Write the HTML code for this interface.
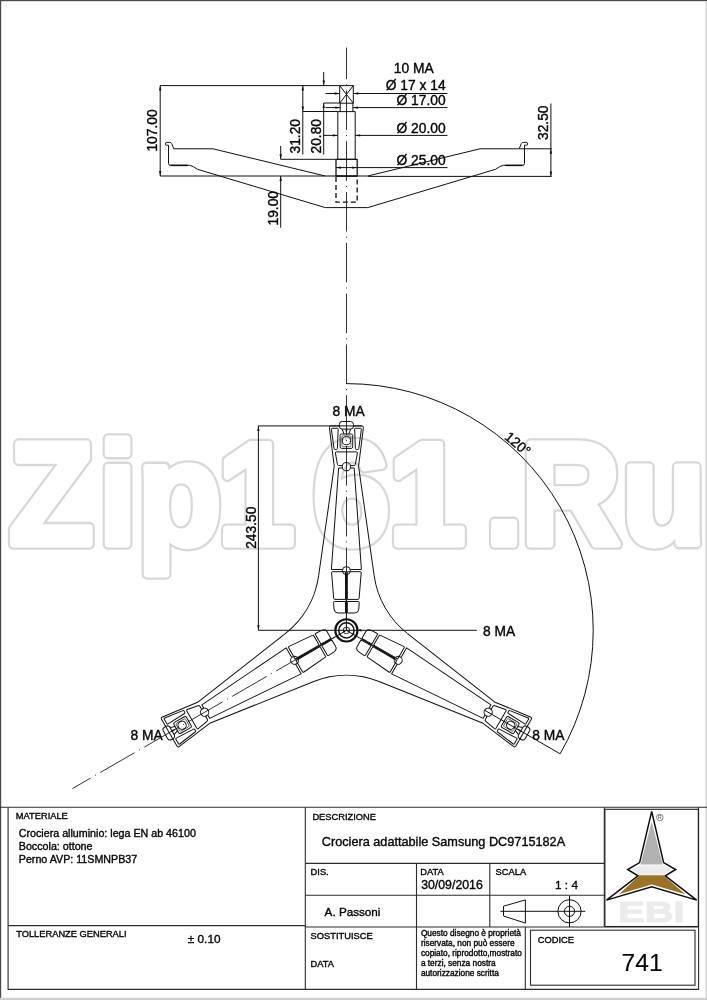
<!DOCTYPE html>
<html lang="it"><head><meta charset="utf-8"><title>Crociera adattabile Samsung DC9715182A</title>
<style>
html,body{margin:0;padding:0;background:#fff}
body{width:707px;height:1000px;overflow:hidden;position:relative;font-family:"Liberation Sans",sans-serif}
svg{position:absolute;left:0;top:0;display:block;will-change:transform}
.l{stroke:#111;stroke-width:1;fill:none}
.k{stroke:#111;stroke-width:1.5;fill:none}
.m{stroke:#111;stroke-width:1.1;fill:none}
.o{stroke:#111;stroke-width:1;fill:none;stroke-linejoin:round}
.c{stroke:#111;stroke-width:.85;fill:none;stroke-dasharray:39.6 5.1 1 5.1}
.d{stroke:#111;stroke-width:1.3;fill:none;stroke-dasharray:5 3}
.ah{fill:#111;stroke:none}
.t{font-family:"Liberation Sans",sans-serif;fill:#050505;stroke:#050505;stroke-width:.36}
.fr{stroke:#2c2c2c;stroke-width:1.1;fill:none}
.wm{font-family:"Liberation Sans",sans-serif;font-weight:bold;stroke-linejoin:round;stroke-linecap:round}
</style></head><body>
<svg width="707" height="1000" viewBox="0 0 707 1000">
<rect x="0" y="0" width="707" height="1000" fill="#fff"/>
<rect x="0" y="0" width="707" height="1.2" fill="#4a4a4a"/>
<rect x="0" y="0" width="1.2" height="998" fill="#4a4a4a"/>
<rect x="705.6" y="1" width="1.4" height="999" fill="#cfcfcf"/>
<rect x="0" y="997.8" width="707" height="2.2" fill="#cfcfcf"/>
<defs><text id="wm" class="wm" x="9.63 103.67 144.68 229.26 329.58 409.26 510.41 548.53 654.41" y="544" font-size="145.0" transform="scale(0.95 1)">Zip161.Ru</text></defs>
<use href="#wm" stroke="#d8d8d8" stroke-width="11.6" fill="#d8d8d8"/>
<use href="#wm" stroke="#fff" stroke-width="6.9" fill="#fff"/>
<polyline class="o" points="367.8,176 480,148.8 519.2,148.8"/>
<path class="o" d="M519.2,148.8 L521.4,143.4 Q522,142.4 523.2,142.4 L526.6,142.4 Q527.8,142.6 527.7,144 Q527.7,145.2 526.6,145.2 L524.5,145.2 L524.5,163.6 Q524.4,165.2 522.8,165.3 L503.5,165.3 Q500,165.8 495.5,169.3 L367.8,207.6"/>
<line class="k" x1="505.4" y1="165.4" x2="522.5" y2="165.4"/>
<polyline class="o" points="325.2,176 213,148.8 173.8,148.8"/>
<path class="o" d="M173.8,148.8 L171.6,143.4 Q171,142.4 169.8,142.4 L166.4,142.4 Q165.2,142.6 165.3,144 Q165.3,145.2 166.4,145.2 L168.5,145.2 L168.5,163.6 Q168.6,165.2 170.2,165.3 L189.5,165.3 Q193,165.8 197.5,169.3 L325.2,207.6"/>
<line class="k" x1="187.6" y1="165.4" x2="170.5" y2="165.4"/>
<line class="o" x1="325.2" y1="207.6" x2="367.8" y2="207.6"/>
<line class="m" x1="325.2" y1="176" x2="336" y2="176"/>
<line class="o" x1="357.2" y1="176" x2="367.8" y2="176"/>
<rect class="o" x="339.7" y="85.6" width="13.6" height="17.6"/>
<line class="l" x1="339.7" y1="85.6" x2="353.3" y2="103.2"/>
<line class="l" x1="353.3" y1="85.6" x2="339.7" y2="103.2"/>
<path class="o" d="M340.2,103.2V111.6M352.9,103.2V111.6"/>
<rect class="o" x="337.8" y="111.6" width="17.4" height="47.7"/>
<rect class="o" x="336" y="159.3" width="21.2" height="16.7" style="stroke-width:1.25"/>
<line class="k" x1="336" y1="176" x2="357.2" y2="176"/>
<path class="d" d="M336,177V202.2H357.2V177"/>
<line class="c" x1="346.5" y1="47.6" x2="346.5" y2="380" stroke-dashoffset="8"/>
<line class="l" x1="160.2" y1="85.6" x2="339.7" y2="85.6"/>
<line class="l" x1="160.2" y1="85.6" x2="160.2" y2="176"/>
<line class="l" x1="160.2" y1="176" x2="325.2" y2="176"/>
<polygon class="ah" points="160.2,85.6 161.4,90.6 159,90.6"/>
<polygon class="ah" points="160.2,176 159,171 161.4,171"/>
<text class="t" x="157.4" y="151.6" font-size="13.8" text-anchor="start" transform="rotate(-90 157.4 151.6)">107.00</text>
<line class="l" x1="302.8" y1="85.6" x2="302.8" y2="154.5"/>
<polygon class="ah" points="302.8,85.6 304,90.6 301.6,90.6"/>
<polygon class="ah" points="302.8,111.5 301.6,106.5 304,106.5"/>
<line class="l" x1="302.8" y1="111.5" x2="337.8" y2="111.5"/>
<text class="t" x="300" y="153.5" font-size="13.8" text-anchor="start" transform="rotate(-90 300 153.5)">31.20</text>
<line class="l" x1="323.7" y1="72" x2="323.7" y2="85.6"/>
<polygon class="ah" points="323.7,85.6 322.5,80.6 324.9,80.6"/>
<line class="l" x1="323.7" y1="103" x2="323.7" y2="154.5"/>
<polygon class="ah" points="323.7,103 324.9,108 322.5,108"/>
<line class="l" x1="323.7" y1="103" x2="339.7" y2="103"/>
<text class="t" x="320.9" y="153.5" font-size="13.8" text-anchor="start" transform="rotate(-90 320.9 153.5)">20.80</text>
<line class="l" x1="280.7" y1="146" x2="280.7" y2="159.3"/>
<polygon class="ah" points="280.7,159.3 279.5,154.3 281.9,154.3"/>
<line class="l" x1="280.7" y1="159.3" x2="336" y2="159.3"/>
<line class="l" x1="280.7" y1="176" x2="280.7" y2="227.7"/>
<polygon class="ah" points="280.7,176 281.9,181 279.5,181"/>
<text class="t" x="278" y="225.5" font-size="13.8" text-anchor="start" transform="rotate(-90 278 225.5)">19.00</text>
<line class="l" x1="325.5" y1="93.5" x2="339.7" y2="93.5"/>
<polygon class="ah" points="339.7,93.5 334.7,94.7 334.7,92.3"/>
<line class="l" x1="353.3" y1="93.5" x2="447.5" y2="93.5"/>
<polygon class="ah" points="353.3,93.5 358.3,92.3 358.3,94.7"/>
<line class="l" x1="325.5" y1="107.6" x2="340.2" y2="107.6"/>
<polygon class="ah" points="340.2,107.6 335.2,108.8 335.2,106.4"/>
<line class="l" x1="352.9" y1="107.6" x2="447.5" y2="107.6"/>
<polygon class="ah" points="352.9,107.6 357.9,106.4 357.9,108.8"/>
<line class="l" x1="323.7" y1="135.4" x2="337.8" y2="135.4"/>
<polygon class="ah" points="337.8,135.4 332.8,136.6 332.8,134.2"/>
<line class="l" x1="355.2" y1="135.4" x2="447.5" y2="135.4"/>
<polygon class="ah" points="355.2,135.4 360.2,134.2 360.2,136.6"/>
<line class="l" x1="336" y1="167.6" x2="447.5" y2="167.6"/>
<polygon class="ah" points="336,167.6 341,166.4 341,168.8"/>
<polygon class="ah" points="357.2,167.6 352.2,168.8 352.2,166.4"/>
<text class="t" x="445.6" y="90.3" font-size="13.8" text-anchor="end">Ø 17 x 14</text>
<text class="t" x="445.6" y="104.8" font-size="13.8" text-anchor="end">Ø 17.00</text>
<text class="t" x="445.6" y="132.6" font-size="13.8" text-anchor="end">Ø 20.00</text>
<text class="t" x="445.6" y="164.6" font-size="13.8" text-anchor="end">Ø 25.00</text>
<text class="t" x="393.8" y="73.3" font-size="13.8" text-anchor="start">10 MA</text>
<line class="l" x1="519.2" y1="148.8" x2="551.6" y2="148.8"/>
<line class="l" x1="367.8" y1="176.4" x2="551.6" y2="176.4"/>
<line class="l" x1="550.9" y1="103.5" x2="550.9" y2="176.4"/>
<polygon class="ah" points="550.9,148.8 552.1,153.8 549.7,153.8"/>
<polygon class="ah" points="550.9,176.4 549.7,171.4 552.1,171.4"/>
<text class="t" x="547.9" y="140" font-size="13.8" text-anchor="start" transform="rotate(-90 547.9 140)">32.50</text>
<path class="l" d="M346.4,383.6 A246.8,246.8 0 0 1 560.14,753.8"/>
<text class="t" x="503.8" y="438.3" font-size="13.8" text-anchor="start" transform="rotate(40 503.8 438.3)">120°</text>
<line class="l" x1="258.4" y1="425.9" x2="339.5" y2="425.9"/>
<line class="l" x1="353.4" y1="425.9" x2="362" y2="425.9"/>
<line class="l" x1="258.4" y1="425.9" x2="258.4" y2="630.3"/>
<line class="l" x1="258.4" y1="630.3" x2="476.8" y2="630.3"/>
<polygon class="ah" points="258.4,425.9 259.6,430.9 257.2,430.9"/>
<polygon class="ah" points="258.4,630.3 257.2,625.3 259.6,625.3"/>
<text class="t" x="255.8" y="548.8" font-size="13.8" text-anchor="start" transform="rotate(-90 255.8 548.8)">243.50</text>
<text class="t" x="483" y="635.8" font-size="13.8" text-anchor="start">8 MA</text>
<text class="t" x="332.6" y="415.8" font-size="13.8" text-anchor="start">8 MA</text>
<text class="t" x="130.4" y="740.3" font-size="13.8" text-anchor="start">8 MA</text>
<text class="t" x="532.2" y="739.8" font-size="13.8" text-anchor="start">8 MA</text>
<g transform="translate(346.4 630.4) rotate(0)">
<path class="o" d="M-27.8,-54.5 L-12.15,-164.1 L-17.0,-202.6 Q-17.2,-204.5 -15.3,-204.5 L15.3,-204.5 Q17.2,-204.5 17.0,-202.6 L12.15,-164.1 L27.8,-54.5 A89.3,89.3 0 0 0 61.1,3.18"/>
<rect class="o" x="-7.1" y="-208.9" width="14.2" height="7.6" rx="3" ry="3" fill="#fff"/>
<path class="o" d="M-4.2,-201.3 L-2.4,-196.4 M4.2,-201.3 L2.4,-196.4"/>
<rect class="o" x="-6.3" y="-196.4" width="12.6" height="14.4" rx="1.6"/>
<rect class="l" x="-4.5" y="-194.6" width="9" height="10.9" rx="1.2" style="stroke-width:.6"/>
<circle class="o" cx="0" cy="-189.7" r="4.1" fill="#fff"/>
<path class="o" d="M-14.2,-202.1 L-9,-202.1 Q-8.2,-202.1 -8.25,-201.2 L-9,-181.8 Q-9.1,-180.9 -10,-180.9 L-11.4,-180.9 Q-12.2,-180.9 -12.35,-181.8 L-15,-201.2 Q-15.1,-202.1 -14.2,-202.1Z"/>
<path class="o" d="M14.2,-202.1 L9,-202.1 Q8.2,-202.1 8.25,-201.2 L9,-181.8 Q9.1,-180.9 10,-180.9 L11.4,-180.9 Q12.2,-180.9 12.35,-181.8 L15,-201.2 Q15.1,-202.1 14.2,-202.1Z"/>
<path class="o" d="M-3.9,-164.8 L-7.6,-164.8 Q-8.8,-164.9 -9,-166.2 L-11,-177.4 Q-11.1,-178.5 -10,-178.5 L10,-178.5 Q11.1,-178.5 11,-177.4 L9,-166.2 Q8.8,-164.9 7.6,-164.8 L3.9,-164.8"/>
<circle class="o" cx="0" cy="-163.7" r="4.1"/>
<path class="o" d="M-3.9,-162.4 L-7.8,-162.4 L-15,-60.9 L-3.9,-60.9 M3.9,-162.4 L7.8,-162.4 L15,-60.9 L3.9,-60.9"/>
<circle class="o" cx="0" cy="-59.8" r="4"/>
<path class="o" d="M-0.9,-58.7 L-13.8,-58.7 Q-14.9,-58.7 -14.8,-57.6 L-12.7,-32 Q-12.6,-31 -11.6,-31 L-0.9,-31Z"/>
<path class="o" d="M-0.9,-28.9 L-11.8,-28.9 Q-12.9,-28.9 -12.8,-27.8 L-12.4,-21.4 Q-12,-17.4 -8.4,-17.4 L-0.9,-17.4Z"/>
<path class="o" d="M0.9,-58.7 L13.8,-58.7 Q14.9,-58.7 14.8,-57.6 L12.7,-32 Q12.6,-31 11.6,-31 L0.9,-31Z"/>
<path class="o" d="M0.9,-28.9 L11.8,-28.9 Q12.9,-28.9 12.8,-27.8 L12.4,-21.4 Q12,-17.4 8.4,-17.4 L0.9,-17.4Z"/>
<line class="k" x1="0" y1="-55.8" x2="0" y2="-18" style="stroke-width:1.4"/><line class="l" x1="0" y1="-18" x2="0" y2="-12"/>
<polygon class="ah" points="0,-196.2 -1,-201 1,-201"/>
</g>
<g transform="translate(346.4 630.4) rotate(120)">
<path class="o" d="M-27.8,-54.5 L-12.15,-164.1 L-17.0,-202.6 Q-17.2,-204.5 -15.3,-204.5 L15.3,-204.5 Q17.2,-204.5 17.0,-202.6 L12.15,-164.1 L27.8,-54.5 A89.3,89.3 0 0 0 61.1,3.18"/>
<rect class="o" x="-7.1" y="-208.9" width="14.2" height="7.6" rx="3" ry="3" fill="#fff"/>
<path class="o" d="M-4.2,-201.3 L-2.4,-196.4 M4.2,-201.3 L2.4,-196.4"/>
<rect class="o" x="-6.3" y="-196.4" width="12.6" height="14.4" rx="1.6"/>
<rect class="l" x="-4.5" y="-194.6" width="9" height="10.9" rx="1.2" style="stroke-width:.6"/>
<circle class="o" cx="0" cy="-189.7" r="4.1" fill="#fff"/>
<path class="o" d="M-14.2,-202.1 L-9,-202.1 Q-8.2,-202.1 -8.25,-201.2 L-9,-181.8 Q-9.1,-180.9 -10,-180.9 L-11.4,-180.9 Q-12.2,-180.9 -12.35,-181.8 L-15,-201.2 Q-15.1,-202.1 -14.2,-202.1Z"/>
<path class="o" d="M14.2,-202.1 L9,-202.1 Q8.2,-202.1 8.25,-201.2 L9,-181.8 Q9.1,-180.9 10,-180.9 L11.4,-180.9 Q12.2,-180.9 12.35,-181.8 L15,-201.2 Q15.1,-202.1 14.2,-202.1Z"/>
<path class="o" d="M-3.9,-164.8 L-7.6,-164.8 Q-8.8,-164.9 -9,-166.2 L-11,-177.4 Q-11.1,-178.5 -10,-178.5 L10,-178.5 Q11.1,-178.5 11,-177.4 L9,-166.2 Q8.8,-164.9 7.6,-164.8 L3.9,-164.8"/>
<circle class="o" cx="0" cy="-163.7" r="4.1"/>
<path class="o" d="M-3.9,-162.4 L-7.8,-162.4 L-15,-60.9 L-3.9,-60.9 M3.9,-162.4 L7.8,-162.4 L15,-60.9 L3.9,-60.9"/>
<circle class="o" cx="0" cy="-59.8" r="4"/>
<path class="o" d="M-0.9,-58.7 L-13.8,-58.7 Q-14.9,-58.7 -14.8,-57.6 L-12.7,-32 Q-12.6,-31 -11.6,-31 L-0.9,-31Z"/>
<path class="o" d="M-0.9,-28.9 L-11.8,-28.9 Q-12.9,-28.9 -12.8,-27.8 L-12.4,-21.4 Q-12,-17.4 -8.4,-17.4 L-0.9,-17.4Z"/>
<path class="o" d="M0.9,-58.7 L13.8,-58.7 Q14.9,-58.7 14.8,-57.6 L12.7,-32 Q12.6,-31 11.6,-31 L0.9,-31Z"/>
<path class="o" d="M0.9,-28.9 L11.8,-28.9 Q12.9,-28.9 12.8,-27.8 L12.4,-21.4 Q12,-17.4 8.4,-17.4 L0.9,-17.4Z"/>
<line class="k" x1="0" y1="-55.8" x2="0" y2="-18" style="stroke-width:1.4"/><line class="l" x1="0" y1="-18" x2="0" y2="-12"/>
<polygon class="ah" points="0,-196.2 -1,-201 1,-201"/>
</g>
<g transform="translate(346.4 630.4) rotate(240)">
<path class="o" d="M-27.8,-54.5 L-12.15,-164.1 L-17.0,-202.6 Q-17.2,-204.5 -15.3,-204.5 L15.3,-204.5 Q17.2,-204.5 17.0,-202.6 L12.15,-164.1 L27.8,-54.5 A89.3,89.3 0 0 0 61.1,3.18"/>
<rect class="o" x="-7.1" y="-208.9" width="14.2" height="7.6" rx="3" ry="3" fill="#fff"/>
<path class="o" d="M-4.2,-201.3 L-2.4,-196.4 M4.2,-201.3 L2.4,-196.4"/>
<rect class="o" x="-6.3" y="-196.4" width="12.6" height="14.4" rx="1.6"/>
<rect class="l" x="-4.5" y="-194.6" width="9" height="10.9" rx="1.2" style="stroke-width:.6"/>
<circle class="o" cx="0" cy="-189.7" r="4.1" fill="#fff"/>
<path class="o" d="M-14.2,-202.1 L-9,-202.1 Q-8.2,-202.1 -8.25,-201.2 L-9,-181.8 Q-9.1,-180.9 -10,-180.9 L-11.4,-180.9 Q-12.2,-180.9 -12.35,-181.8 L-15,-201.2 Q-15.1,-202.1 -14.2,-202.1Z"/>
<path class="o" d="M14.2,-202.1 L9,-202.1 Q8.2,-202.1 8.25,-201.2 L9,-181.8 Q9.1,-180.9 10,-180.9 L11.4,-180.9 Q12.2,-180.9 12.35,-181.8 L15,-201.2 Q15.1,-202.1 14.2,-202.1Z"/>
<path class="o" d="M-3.9,-164.8 L-7.6,-164.8 Q-8.8,-164.9 -9,-166.2 L-11,-177.4 Q-11.1,-178.5 -10,-178.5 L10,-178.5 Q11.1,-178.5 11,-177.4 L9,-166.2 Q8.8,-164.9 7.6,-164.8 L3.9,-164.8"/>
<circle class="o" cx="0" cy="-163.7" r="4.1"/>
<path class="o" d="M-3.9,-162.4 L-7.8,-162.4 L-15,-60.9 L-3.9,-60.9 M3.9,-162.4 L7.8,-162.4 L15,-60.9 L3.9,-60.9"/>
<circle class="o" cx="0" cy="-59.8" r="4"/>
<path class="o" d="M-0.9,-58.7 L-13.8,-58.7 Q-14.9,-58.7 -14.8,-57.6 L-12.7,-32 Q-12.6,-31 -11.6,-31 L-0.9,-31Z"/>
<path class="o" d="M-0.9,-28.9 L-11.8,-28.9 Q-12.9,-28.9 -12.8,-27.8 L-12.4,-21.4 Q-12,-17.4 -8.4,-17.4 L-0.9,-17.4Z"/>
<path class="o" d="M0.9,-58.7 L13.8,-58.7 Q14.9,-58.7 14.8,-57.6 L12.7,-32 Q12.6,-31 11.6,-31 L0.9,-31Z"/>
<path class="o" d="M0.9,-28.9 L11.8,-28.9 Q12.9,-28.9 12.8,-27.8 L12.4,-21.4 Q12,-17.4 8.4,-17.4 L0.9,-17.4Z"/>
<line class="k" x1="0" y1="-55.8" x2="0" y2="-18" style="stroke-width:1.4"/><line class="l" x1="0" y1="-18" x2="0" y2="-12"/>
<polygon class="ah" points="0,-196.2 -1,-201 1,-201"/>
</g>
<line class="c" x1="72.39" y1="788.6" x2="346.4" y2="630.4" stroke-dasharray="44.6 4.7 1 4.7" stroke-dashoffset="18.6"/>
<line class="l" x1="484.96" y1="710.4" x2="560.14" y2="753.8"/>
<line class="c" x1="346.5" y1="380" x2="346.5" y2="630.4" stroke-dashoffset="35.6"/>
<circle cx="346.4" cy="630.4" r="12.3" fill="#fff" stroke="none"/>
<circle class="k" cx="346.4" cy="630.4" r="11.1" style="stroke-width:2.1"/>
<circle class="k" cx="346.4" cy="630.4" r="7.65" style="stroke-width:1.5"/>
<circle class="l" cx="346.4" cy="630.4" r="3.3" style="stroke-width:.9"/>
<line class="l" x1="346.4" y1="630.4" x2="346.4" y2="618.4"/>
<line class="l" x1="346.4" y1="630.4" x2="356.79" y2="636.4"/>
<line class="l" x1="346.4" y1="630.4" x2="336.01" y2="636.4"/>
<polygon class="ah" points="356.4,630.3 361.4,629.1 361.4,631.5"/>
<line class="l" x1="334.4" y1="630.3" x2="358.4" y2="630.3"/>
<g class="fr">
<path d="M0,807.2H707"/>
<path d="M8.1,807.2V989.4H698.6V807.2"/>
<path d="M305.3,807.2V989.4"/>
<path d="M8.1,925.6H305.3"/>
<path d="M305.3,863.4H604.3 M305.3,895.3H604.3 M305.3,927H698.6"/>
<path d="M604.3,807.2V927"/>
<path d="M416.5,863.4V989.4 M489.8,863.4V927 M525.3,927V989.4"/>
<rect x="530.5" y="930.2" width="164.5" height="55"/>
<rect x="604.9" y="809.3" width="93.4" height="117.2" stroke="#222"/>
</g>
<text class="t" x="15.8" y="819" font-size="9.3" text-anchor="start">MATERIALE</text>
<text class="t" x="18.8" y="836.7" font-size="10.7" text-anchor="start">Crociera alluminio: lega EN ab 46100</text>
<text class="t" x="18.8" y="849.8" font-size="10.7" text-anchor="start">Boccola: ottone</text>
<text class="t" x="18.8" y="862.8" font-size="10.7" text-anchor="start">Perno AVP: 11SMNPB37</text>
<text class="t" x="16.2" y="937.2" font-size="9.3" text-anchor="start">TOLLERANZE GENERALI</text>
<text class="t" x="187.8" y="942.8" font-size="11.8" text-anchor="start">± 0.10</text>
<text class="t" x="312.4" y="820" font-size="9.3" text-anchor="start">DESCRIZIONE</text>
<text class="t" x="321.8" y="845.6" font-size="12.7" text-anchor="start">Crociera adattabile Samsung DC9715182A</text>
<text class="t" x="310.6" y="874.8" font-size="9.3" text-anchor="start">DIS.</text>
<text class="t" x="420.2" y="874.8" font-size="9.3" text-anchor="start">DATA</text>
<text class="t" x="421.2" y="888.8" font-size="12.3" text-anchor="start">30/09/2016</text>
<text class="t" x="495.6" y="874.9" font-size="9.3" text-anchor="start">SCALA</text>
<text class="t" x="555" y="888.6" font-size="11.8" text-anchor="start">1 : 4</text>
<text class="t" x="324.6" y="916.3" font-size="11.7" text-anchor="start">A. Passoni</text>
<text class="t" x="310.6" y="939.2" font-size="9.3" text-anchor="start">SOSTITUISCE</text>
<text class="t" x="310.6" y="966.6" font-size="9.3" text-anchor="start">DATA</text>
<text class="t" x="420.9" y="936" font-size="8.3" text-anchor="start">Questo disegno è proprietà</text>
<text class="t" x="420.9" y="946" font-size="8.3" text-anchor="start">riservata, non può essere</text>
<text class="t" x="420.9" y="956" font-size="8.3" text-anchor="start">copiato, riprodotto,mostrato</text>
<text class="t" x="420.9" y="966" font-size="8.3" text-anchor="start">a terzi, senza nostra</text>
<text class="t" x="420.9" y="976" font-size="8.3" text-anchor="start">autorizzazione scritta</text>
<text class="t" x="537.8" y="943.1" font-size="9.3" text-anchor="start">CODICE</text>
<text class="t" x="621.6" y="971.2" font-size="24.6" text-anchor="start" style="stroke-width:.1">741</text>
<polygon class="o" points="503.5,906.2 525.4,899.9 525.4,923.1 503.5,916"/>
<line class="l" x1="500.4" y1="911.3" x2="585.3" y2="911.3"/>
<line class="l" x1="569.5" y1="896" x2="569.5" y2="927"/>
<circle class="o" cx="569.5" cy="911.3" r="11.6"/><circle class="o" cx="569.5" cy="911.3" r="5.1"/>
<polygon points="651.7,811.3 663.6,862.6 675.7,869.5 665.3,875.8 696.7,900.1 651.7,886.9 606.5,900.1 638,875.8 627.7,869.5 639.6,862.6" fill="#fff" stroke="#0c0c0c" stroke-width="1.5" stroke-linejoin="miter"/>
<polygon points="651.7,821.5 662.8,864.5 640.5,864.5" fill="#b1b1b1"/>
<polygon points="640.5,865.4 662.8,865.4 672.4,869.5 662.8,874.8 639.6,874.8 631.4,869.5" fill="#ececec"/>
<polygon points="639.6,875.3 663.6,875.3 685.2,894.3 651.7,884.4 619,894.3" fill="#9a7328"/>
<text transform="translate(618.2 921.6) scale(1 0.757)" x="0" y="0" font-size="39.8" font-weight="bold" class="t" style="fill:#ebebeb;stroke:#ebebeb;stroke-width:1.4">EBI</text>
<circle cx="659.8" cy="817.4" r="3.3" fill="none" stroke="#555" stroke-width=".7"/>
<text x="659.8" y="819.4" font-size="5.5" text-anchor="middle" class="t" style="fill:#555;stroke:none">R</text>
</svg></body></html>
